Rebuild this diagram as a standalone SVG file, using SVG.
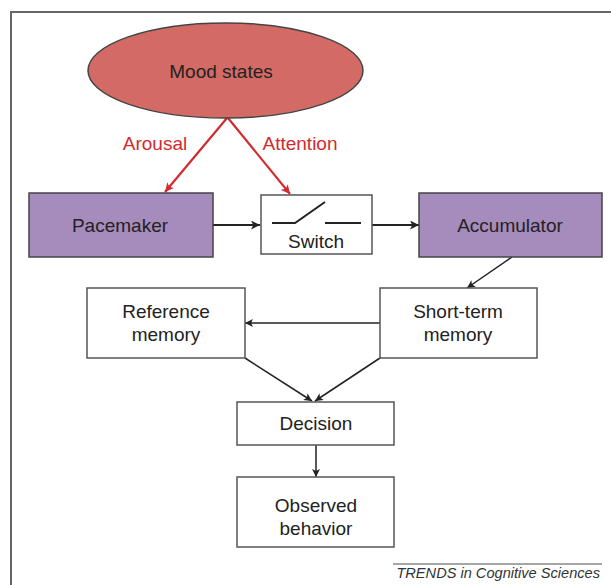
<svg xmlns="http://www.w3.org/2000/svg" width="611" height="585" viewBox="0 0 611 585">
<style>
  text { font-family: "Liberation Sans", Arial, sans-serif; font-size: 19px; fill: #222; text-anchor: middle; }
  .box { fill: #fff; stroke: #555; stroke-width: 1.5; }
  .purple { fill: #a68bbd; stroke: #444; stroke-width: 1.5; }
  .conn { stroke: #222; stroke-width: 1.5; fill: none; }
  .thick { stroke-width: 2.2; }
  .red { stroke: #d22a2e; stroke-width: 2.2; fill: none; }
  .redtxt { fill: #d22a2e; }
</style>
<defs>
  <marker id="ah" viewBox="0 0 10 10" refX="10" refY="5" markerWidth="9" markerHeight="8" markerUnits="userSpaceOnUse" orient="auto">
    <path d="M0,0 L10,5 L0,10 L2.5,5 z" fill="#222"/>
  </marker>
  <marker id="ahr" viewBox="0 0 10 10" refX="10" refY="5" markerWidth="10" markerHeight="9" markerUnits="userSpaceOnUse" orient="auto">
    <path d="M0,0 L10,5 L0,10 L2.5,5 z" fill="#d22a2e"/>
  </marker>
  <marker id="ahb" viewBox="0 0 10 10" refX="10" refY="5" markerWidth="10" markerHeight="9" markerUnits="userSpaceOnUse" orient="auto">
    <path d="M0,0 L10,5 L0,10 L2.5,5 z" fill="#222"/>
  </marker>
</defs>
<rect x="11" y="12" width="700" height="700" fill="none" stroke="#666" stroke-width="2"/>

<g id="connectors">
  <line class="red" x1="227" y1="118" x2="165" y2="192" marker-end="url(#ahr)"/>
  <line class="red" x1="228" y1="118" x2="290" y2="194" marker-end="url(#ahr)"/>
  <line class="conn thick" x1="213" y1="225" x2="260" y2="225" marker-end="url(#ahb)"/>
  <line class="conn thick" x1="372" y1="225" x2="419" y2="225" marker-end="url(#ahb)"/>
  <line class="conn" x1="512" y1="257" x2="467" y2="288" marker-end="url(#ah)"/>
  <line class="conn" x1="380" y1="323" x2="245" y2="323" marker-end="url(#ah)"/>
  <line class="conn" x1="245" y1="358" x2="312" y2="401" marker-end="url(#ah)"/>
  <line class="conn" x1="380" y1="358" x2="315" y2="401" marker-end="url(#ah)"/>
  <line class="conn" x1="316" y1="445" x2="316" y2="477" marker-end="url(#ah)"/>
</g>

<g id="mood">
  <ellipse cx="225.5" cy="70.5" rx="137.5" ry="47.5" fill="#d46a66" stroke="#444" stroke-width="1.5"/>
  <text x="221" y="78">Mood states</text>
</g>
<g id="arousal-label"><text class="redtxt" x="155" y="150">Arousal</text></g>
<g id="attention-label"><text class="redtxt" x="300" y="150">Attention</text></g>

<g id="pacemaker">
  <rect class="purple" x="29" y="193" width="184" height="64"/>
  <text x="120" y="232">Pacemaker</text>
</g>
<g id="switch">
  <rect class="box" x="261" y="195" width="111" height="59"/>
  <path d="M272,223 H295 L325,202 M325,223 H361" stroke="#222" stroke-width="2" fill="none"/>
  <text x="316" y="248">Switch</text>
</g>
<g id="accumulator">
  <rect class="purple" x="419" y="193" width="183" height="64"/>
  <text x="510" y="232">Accumulator</text>
</g>
<g id="reference-memory">
  <rect class="box" x="87" y="288" width="158" height="70"/>
  <text x="166" y="318">Reference</text>
  <text x="166" y="341">memory</text>
</g>
<g id="short-term-memory">
  <rect class="box" x="380" y="288" width="157" height="70"/>
  <text x="458" y="318">Short-term</text>
  <text x="458" y="341">memory</text>
</g>
<g id="decision">
  <rect class="box" x="237" y="402" width="157" height="43"/>
  <text x="316" y="430">Decision</text>
</g>
<g id="observed-behavior">
  <rect class="box" x="237" y="477" width="157" height="70"/>
  <text x="316" y="512">Observed</text>
  <text x="316" y="535">behavior</text>
</g>
<g id="credit">
  <line x1="393" y1="564" x2="602" y2="564" stroke="#888" stroke-width="1.5"/>
  <text x="600" y="578" style="text-anchor:end;font-style:italic;font-size:14.6px;fill:#333">TRENDS in Cognitive Sciences</text>
</g>
</svg>
